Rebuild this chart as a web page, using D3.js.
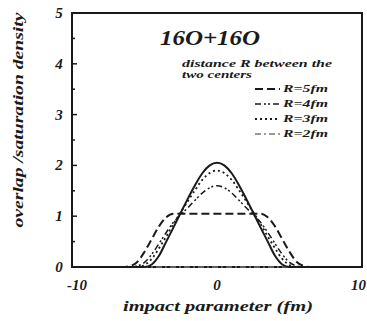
<!DOCTYPE html>
<html>
<head>
<meta charset="utf-8">
<script src="https://cdn.jsdelivr.net/npm/d3@7"></script>
<style>
  body { margin: 0; background: #fff; }
  svg text { font-family: "Liberation Serif", "DejaVu Serif", serif; font-weight: bold; font-style: italic; fill: #1a1a1a; }
</style>
</head>
<body>
<div id="chart"></div>
<script>
// impact parameter (fm)
const xs = [-10, -7, -6.5, -6, -5.5, -5, -4.5, -4, -3.5, -3, -2.5, -2, -1.5, -1, -0.5, 0,
  0.5, 1, 1.5, 2, 2.5, 3, 3.5, 4, 4.5, 5, 5.5, 6, 6.5, 7, 10];

// overlap / saturation density
const solid = [0, 0, 0, 0, 0, 0, 0.05, 0.22, 0.5, 0.78, 1.07, 1.35, 1.62, 1.85, 2.0, 2.05,
  2.0, 1.85, 1.62, 1.35, 1.07, 0.78, 0.5, 0.22, 0.05, 0, 0, 0, 0, 0, 0];
const r5 = [0, 0, 0, 0.02, 0.1, 0.3, 0.55, 0.8, 0.98, 1.05, 1.05, 1.05, 1.05, 1.05, 1.05, 1.05,
  1.05, 1.05, 1.05, 1.05, 1.05, 1.05, 0.98, 0.8, 0.55, 0.3, 0.1, 0.02, 0, 0, 0];
const r4 = [0, 0, 0, 0, 0.02, 0.09, 0.25, 0.46, 0.68, 0.88, 1.03, 1.17, 1.32, 1.46, 1.56, 1.6,
  1.56, 1.46, 1.32, 1.17, 1.03, 0.88, 0.68, 0.46, 0.25, 0.09, 0.02, 0, 0, 0, 0];
const r3 = [0, 0, 0, 0, 0, 0.04, 0.16, 0.37, 0.6, 0.85, 1.08, 1.3, 1.52, 1.72, 1.85, 1.9,
  1.85, 1.72, 1.52, 1.3, 1.08, 0.85, 0.6, 0.37, 0.16, 0.04, 0, 0, 0, 0, 0];
const r2 = [0, 0, 0, 0, 0, 0, 0, 0, 0, 0, 0, 0, 0, 0, 0, 0,
  0, 0, 0, 0, 0, 0, 0, 0, 0, 0, 0, 0, 0, 0, 0];

const xTicks = [-10, 0, 10];
const yTicks = [0, 1, 2, 3, 4, 5];
const yMinor = [0.5, 1.5, 2.5, 3.5, 4.5];
const legendLabels = ['R=5fm', 'R=4fm', 'R=3fm', 'R=2fm'];

const W = 367, H = 321;
const margin = { top: 13, right: 5, bottom: 54, left: 72 };

const svg = d3.select('#chart').append('svg')
  .attr('width', W)
  .attr('height', H);

const x = d3.scaleLinear().domain([-10, 10]).range([margin.left, W - margin.right]);
const y = d3.scaleLinear().domain([0, 5]).range([H - margin.bottom, margin.top]);

const ink = '#1a1a1a';

// frame
svg.append('rect')
  .attr('x', x(-10)).attr('y', y(5))
  .attr('width', x(10) - x(-10)).attr('height', y(0) - y(5))
  .attr('fill', 'none').attr('stroke', ink).attr('stroke-width', 2);

// y ticks (inward)
svg.append('g').selectAll('line.major').data(yTicks).enter().append('line')
  .attr('x1', x(-10)).attr('x2', x(-10) + 5)
  .attr('y1', d => y(d)).attr('y2', d => y(d))
  .attr('stroke', ink).attr('stroke-width', 1.5);
svg.append('g').selectAll('line.minor').data(yMinor).enter().append('line')
  .attr('x1', x(-10)).attr('x2', x(-10) + 3)
  .attr('y1', d => y(d)).attr('y2', d => y(d))
  .attr('stroke', ink).attr('stroke-width', 1.5);

svg.append('g').selectAll('text').data(yTicks).enter().append('text')
  .attr('x', x(-10) - 13).attr('y', d => y(d) + 5)
  .attr('text-anchor', 'middle').attr('font-size', 15)
  .text(d => d);

svg.append('g').selectAll('text').data(xTicks).enter().append('text')
  .attr('x', d => d === -10 ? x(d) + 5 : d === 10 ? W - 1 : x(d))
  .attr('y', y(0) + 23)
  .attr('text-anchor', d => d === 10 ? 'end' : 'middle')
  .attr('font-size', 15)
  .text(d => d);

// axis titles
svg.append('text')
  .attr('x', 218).attr('y', 311)
  .attr('text-anchor', 'middle').attr('font-size', 14)
  .attr('textLength', 190).attr('lengthAdjust', 'spacingAndGlyphs')
  .text('impact parameter (fm)');

svg.append('text')
  .attr('transform', 'translate(23,120) rotate(-90)')
  .attr('text-anchor', 'middle').attr('font-size', 14)
  .attr('textLength', 215).attr('lengthAdjust', 'spacingAndGlyphs')
  .text('overlap /saturation density');

// title
svg.append('text')
  .attr('x', 210).attr('y', 45)
  .attr('text-anchor', 'middle').attr('font-size', 22)
  .attr('textLength', 100).attr('lengthAdjust', 'spacingAndGlyphs')
  .text('16O+16O');

// curves
const series = [
  { values: r2, dash: '6,3,2,3', width: 1.3, color: '#777' },
  { values: r5, dash: '8,4', width: 2, color: ink },
  { values: r4, dash: '6,3,2,2,2,3', width: 1.5, color: ink },
  { values: r3, dash: '2,3', width: 1.8, color: ink },
  { values: solid, dash: null, width: 2, color: ink }
];

const line = d3.line()
  .x(d => x(d[0]))
  .y(d => y(d[1]))
  .curve(d3.curveMonotoneX);

svg.append('g').selectAll('path').data(series).enter().append('path')
  .attr('d', s => line(xs.map((v, i) => [v, s.values[i]])))
  .attr('fill', 'none')
  .attr('stroke', s => s.color)
  .attr('stroke-width', s => s.width)
  .attr('stroke-dasharray', s => s.dash);

// legend
svg.append('text').attr('x', 182).attr('y', 67).attr('font-size', 10)
  .attr('textLength', 150).attr('lengthAdjust', 'spacingAndGlyphs')
  .text('distance R between the');
svg.append('text').attr('x', 182).attr('y', 78).attr('font-size', 10)
  .attr('textLength', 70).attr('lengthAdjust', 'spacingAndGlyphs')
  .text('two centers');

const legendStyles = [series[1], series[2], series[3], series[0]];
const lg = svg.append('g').selectAll('g').data(legendLabels).enter().append('g')
  .attr('transform', (d, i) => `translate(255,${92 + i * 15})`);
lg.append('line')
  .attr('x1', 0).attr('x2', 25).attr('y1', -3).attr('y2', -3)
  .attr('stroke', (d, i) => legendStyles[i].color)
  .attr('stroke-width', (d, i) => legendStyles[i].width)
  .attr('stroke-dasharray', (d, i) => legendStyles[i].dash);
lg.append('text')
  .attr('x', 28).attr('y', 0).attr('font-size', 11)
  .attr('textLength', 45).attr('lengthAdjust', 'spacingAndGlyphs')
  .text(d => d);
</script>
</body>
</html>
